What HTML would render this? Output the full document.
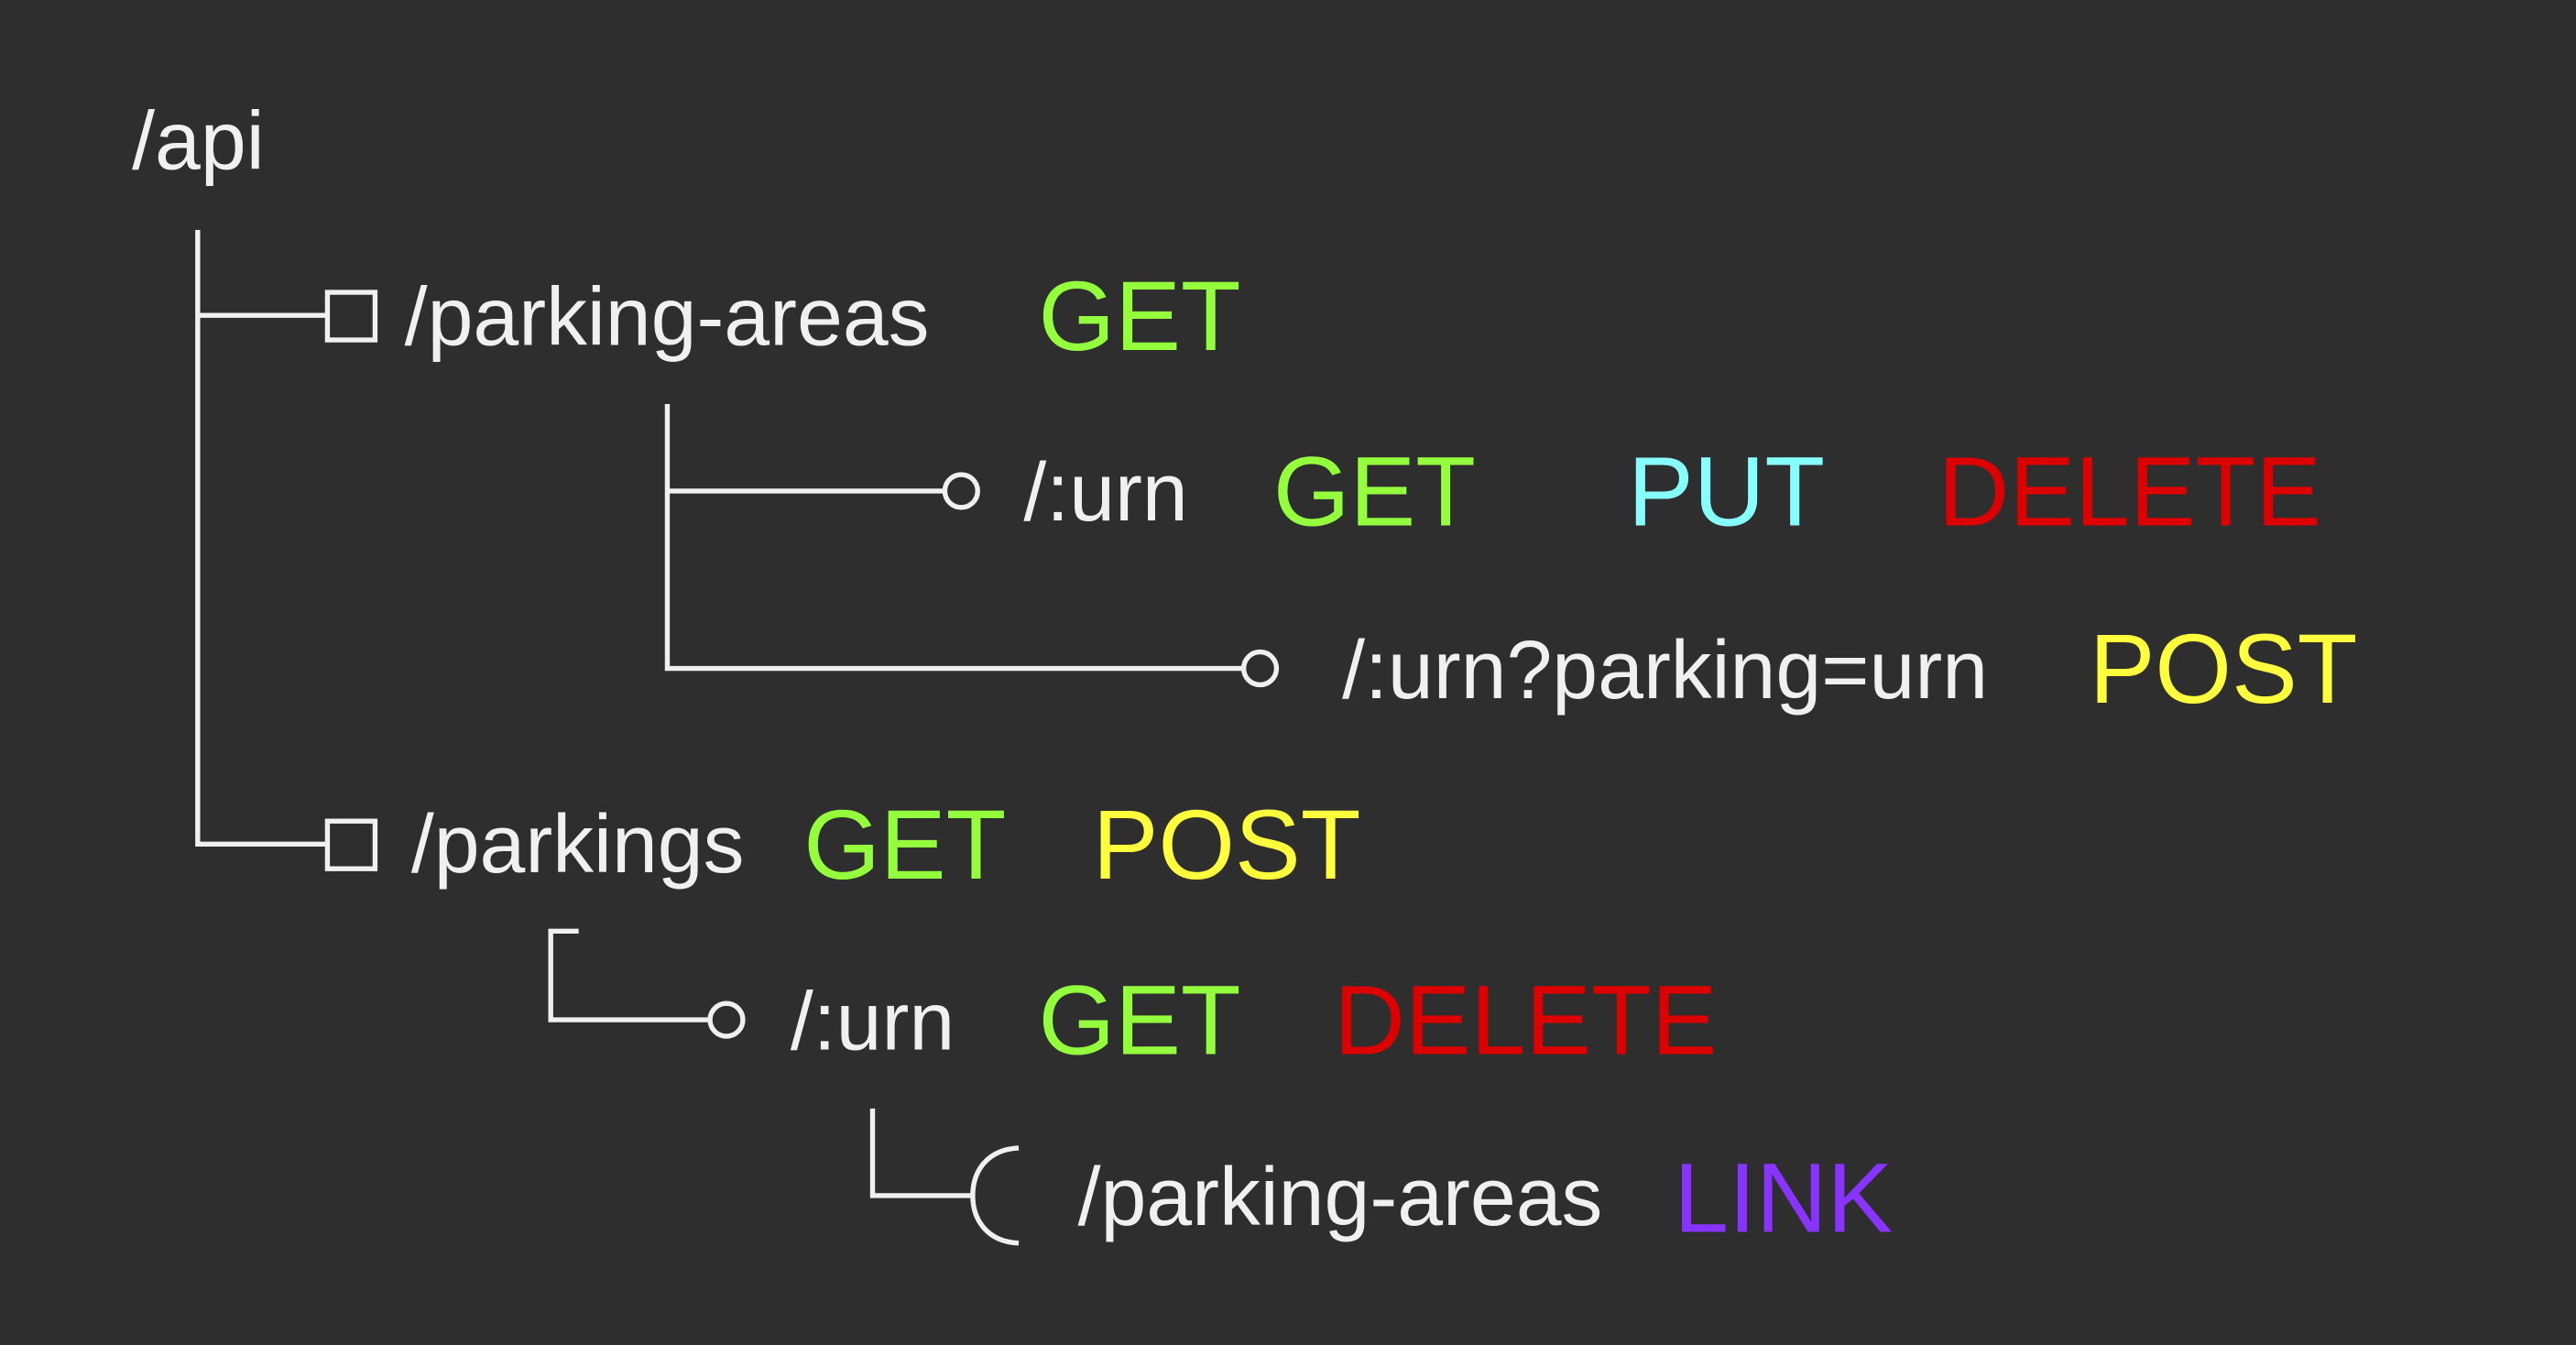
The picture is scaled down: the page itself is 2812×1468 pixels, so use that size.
<!DOCTYPE html>
<html><head><meta charset="utf-8"><style>
html,body{margin:0;padding:0;background:#2e2e2e;width:2812px;height:1468px;overflow:hidden}
svg{display:block}
text{font-family:"Liberation Sans",Arial,sans-serif}
.w{fill:#f0f0f0;font-size:50px}
.m{font-size:60px}
</style></head><body>
<svg width="2812" height="1468" viewBox="0 0 1568 819" xmlns="http://www.w3.org/2000/svg">
<rect width="1568" height="819" fill="#2e2e2e"/>
<g stroke="#f0f0f0" stroke-width="3" fill="none">
<path d="M120,140 V514 H199"/>
<path d="M120,192 H199"/>
<rect x="199" y="178" width="29" height="29"/>
<rect x="199" y="500" width="29" height="29"/>
<path d="M406,246 V407 H756"/>
<path d="M406,299 H575"/>
<circle cx="585" cy="299" r="10"/>
<circle cx="767" cy="407" r="10"/>
<path d="M352,567 H335 V621 H432"/>
<circle cx="442" cy="621" r="10"/>
<path d="M531,675 V728 H592"/>
<path d="M620,699 C600,700 592,714 592,728 C592,742 600,756 620,757"/>
</g>
<text class="w" x="80" y="103">/api</text>
<text class="w" x="246" y="210">/parking-areas</text>
<text class="m" x="632" y="213" fill="#93ff3d">GET</text>
<text class="w" x="623" y="317">/:urn</text>
<text class="m" x="775" y="320" fill="#93ff3d">GET</text>
<text class="m" x="991" y="320" fill="#88ffff">PUT</text>
<text class="m" x="1180" y="320" fill="#dd0000">DELETE</text>
<text class="w" x="817" y="425">/:urn?parking=urn</text>
<text class="m" x="1272" y="428" fill="#ffff3d">POST</text>
<text class="w" x="250" y="531">/parkings</text>
<text class="m" x="489" y="535" fill="#93ff3d">GET</text>
<text class="m" x="665" y="535" fill="#ffff3d">POST</text>
<text class="w" x="481" y="639">/:urn</text>
<text class="m" x="632" y="642" fill="#93ff3d">GET</text>
<text class="m" x="812" y="642" fill="#dd0000">DELETE</text>
<text class="w" x="656" y="746">/parking-areas</text>
<text class="m" x="1019" y="750" fill="#8833ff">LINK</text>
</svg>
</body></html>
